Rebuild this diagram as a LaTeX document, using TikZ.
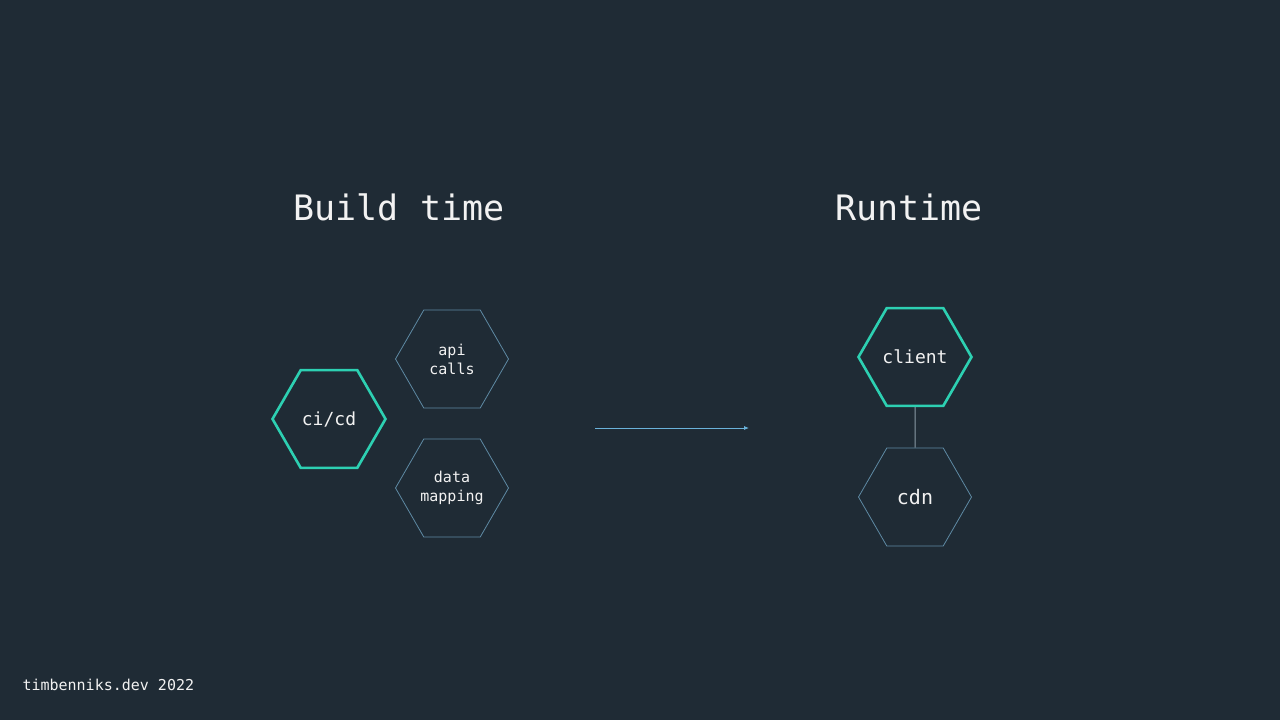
\documentclass[tikz,border=0pt]{standalone}
\usepackage{fontspec}
\setmonofont{DejaVu Sans Mono}
\usetikzlibrary{shapes.geometric,arrows.meta}
\definecolor{bg}{HTML}{1F2B35}
\definecolor{teal}{HTML}{2DD0B2}
\definecolor{thin}{HTML}{5E8AA4}
\definecolor{txt}{HTML}{F2F2F2}
\definecolor{arr}{HTML}{6AB2DA}
\definecolor{con}{HTML}{8A9BA6}
\begin{document}
\begin{tikzpicture}[x=1pt,y=-1pt,
  hex/.style={regular polygon,regular polygon sides=6,minimum size=113pt,inner sep=0pt,align=center,text=txt,font=\ttfamily\fontsize{15}{19}\selectfont},
  strong/.style={hex,draw=teal,line width=2.6pt,font=\ttfamily\fontsize{18}{22}\selectfont},
  light/.style={hex,draw=thin,line width=0.8pt},
  title/.style={text=txt,font=\ttfamily\fontsize{35}{40}\selectfont}]
\fill[bg] (0,0) rectangle (1280,720);
\useasboundingbox (0,0) rectangle (1280,720);
\node[title] (bt) at (399,207) {Build time};
\node[title] (rt) at (909,207) {Runtime};
\node[strong] (cicd) at (329,419) {ci/cd};
\node[light] (api) at (452,359) {api\\calls};
\node[light] (data) at (452,488) {data\\mapping};
\node[strong] (client) at (915,357) {client};
\node[light,font=\ttfamily\fontsize{20}{24}\selectfont] (cdn) at (915,497) {cdn};
\coordinate (a1) at (595,428);
\coordinate (a2) at (749,428);
\draw[arr,line width=0.8pt,-{Latex[length=5pt,width=4pt]}] (a1) -- (a2);
\draw[con,line width=1pt] (client.south) -- (cdn.north);
\node[text=txt,font=\ttfamily\fontsize{15}{18}\selectfont,anchor=west] (foot) at (19,685) {timbenniks.dev 2022};
\end{tikzpicture}
\end{document}
